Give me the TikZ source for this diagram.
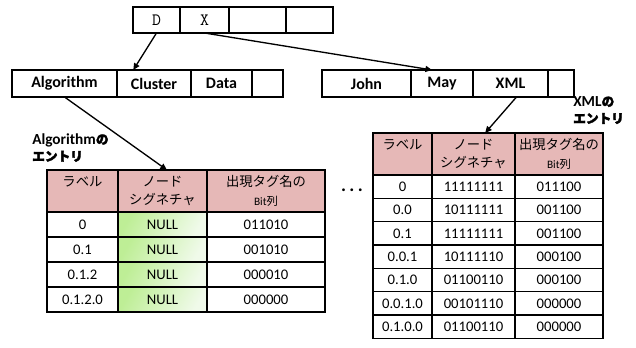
\documentclass[tikz,border=0pt]{standalone}
\usepackage{fontspec}
\setmainfont{Carlito}
\newfontfamily\jp{Noto Sans CJK JP}
\newfontfamily\jpb{Noto Sans CJK JP}[FakeBold=2.5]
\usetikzlibrary{arrows.meta,positioning,calc}
\definecolor{HeadPink}{RGB}{230,184,183}
\definecolor{NullGreen}{RGB}{190,238,150}
\definecolor{NullLight}{RGB}{240,250,234}

\begin{document}
\begin{tikzpicture}[x=0.75pt,y=-0.75pt,
  key/.style={draw,line width=1.2pt,outer sep=0pt,inner sep=0pt,minimum height=19.5pt,font=\ttfamily\fontsize{13}{15}\selectfont},
  slot/.style={draw,line width=1.2pt,outer sep=0pt,inner sep=0pt,minimum height=20.25pt,font=\bfseries\fontsize{12}{14}\selectfont},
  hdr/.style={draw,line width=1pt,fill=HeadPink,outer sep=0pt,inner sep=0pt,minimum height=31.5pt,align=center,font=\jp\fontsize{10}{14}\selectfont},
  val/.style={draw,line width=1pt,outer sep=0pt,inner sep=0pt,font=\fontsize{11}{13}\selectfont},
  nul/.style={val,left color=NullGreen,right color=NullLight,shading angle=60},
  lbl/.style={align=left,anchor=north west,inner sep=0pt,font=\bfseries\fontsize{11.5}{12.75}\selectfont},
  link/.style={-{Triangle[length=5pt,width=4.5pt]},line width=1pt}]

  \useasboundingbox (0,0) rectangle (636,348);

  % top level table
  \node[key,minimum width=35.25pt,anchor=north west] (kd) at (133,7) {D};
  \node[key,minimum width=36.75pt,right=0pt of kd] (kx) {X};
  \node[key,minimum width=42.75pt,right=0pt of kx] (k3) {};
  \node[key,minimum width=35.25pt,right=0pt of k3] (k4) {};

  % second level tables
  \node[slot,minimum width=78.75pt,anchor=north west] (alg) at (12,70) {Algorithm};
  \node[slot,minimum width=55.5pt,right=0pt of alg] (clu) {Cluster};
  \node[slot,minimum width=45.75pt,right=0pt of clu] (dat) {Data};
  \node[slot,minimum width=23.25pt,right=0pt of dat] (s4) {};

  \node[slot,minimum width=66.75pt,anchor=north west] (john) at (322,70) {John};
  \node[slot,minimum width=46.5pt,right=0pt of john] (may) {May};
  \node[slot,minimum width=56.25pt,right=0pt of may] (xml) {XML};
  \node[slot,minimum width=19.5pt,right=0pt of xml] (t4) {};

  % entry of Algorithm
  \node[lbl] (alglbl) at (32,133) {Algorithm{\jpb\fontsize{9.5}{12.75}\selectfont の}\\{\jpb\fontsize{9.5}{12.75}\selectfont エントリ}};
  \node[hdr,minimum width=53.25pt,anchor=north west] (ah1) at (47,170) {ラベル\\\mbox{}};
  \node[hdr,minimum width=66.75pt,right=0pt of ah1] (ah2) {ノード\\シグネチャ};
  \node[hdr,minimum width=88.5pt,right=0pt of ah2] (ah3) {出現タグ名の\\{\rmfamily\fontsize{8.5}{10}\selectfont Bit}{\fontsize{8.5}{10}\selectfont 列}};
  \foreach \lab/\bits [count=\i] in {0/011010,0.1/001010,0.1.2/000010,0.1.2.0/000000}{
    \node[val,minimum width=53.25pt,minimum height=18.75pt,anchor=north west] (al\i) at (47,{212+25*(\i-1)}) {\lab};
    \node[nul,minimum width=66.75pt,minimum height=18.75pt,right=0pt of al\i] (an\i) {NULL};
    \node[val,minimum width=88.5pt,minimum height=18.75pt,right=0pt of an\i] (ab\i) {\bits};
  }

  \node (dots) at (352,190) {\bfseries\fontsize{14}{16}\selectfont .\hspace{2.5pt}.\hspace{2.5pt}.};

  % entry of XML
  \node[lbl] (xmllbl) at (573,96) {XML{\jpb\fontsize{9.5}{12.75}\selectfont の}\\{\jpb\fontsize{9.5}{12.75}\selectfont エントリ}};
  \node[hdr,minimum width=44.25pt,anchor=north west] (xh1) at (373,133) {ラベル\\\mbox{}};
  \node[hdr,minimum width=62.25pt,right=0pt of xh1] (xh2) {ノード\\シグネチャ};
  \node[hdr,minimum width=66pt,right=0pt of xh2] (xh3) {出現タグ名の\\{\rmfamily\fontsize{8.5}{10}\selectfont Bit}{\fontsize{8.5}{10}\selectfont 列}};
  \foreach \lab/\sig/\bits [count=\i] in {0/11111111/011100,0.0/10111111/001100,0.1/11111111/001100,0.0.1/10111110/000100,0.1.0/01100110/000100,0.0.1.0/00101110/000000,0.1.0.0/01100110/000000}{
    \node[val,minimum width=44.25pt,minimum height=17.5pt,anchor=north west] (xl\i) at (373,{175+23.33*(\i-1)}) {\lab};
    \node[val,minimum width=62.25pt,minimum height=17.5pt,right=0pt of xl\i] (xs\i) {\sig};
    \node[val,minimum width=66pt,minimum height=17.5pt,right=0pt of xs\i] (xb\i) {\bits};
  }

  % pointers
  \draw[link] (kd.south) -- ($(clu.north west)!0.22!(clu.north east)$);
  \draw[link] (kx.south) -- ($(may.north west)!0.34!(may.north east)$);
  \draw[link] (alg.south) -- ($(ah2.north west)!0.55!(ah2.north east)$);
  \draw[link] ($(xml.south west)!0.58!(xml.south east)$) -- ($(xh2.north west)!0.64!(xh2.north east)$);
\end{tikzpicture}
\end{document}
